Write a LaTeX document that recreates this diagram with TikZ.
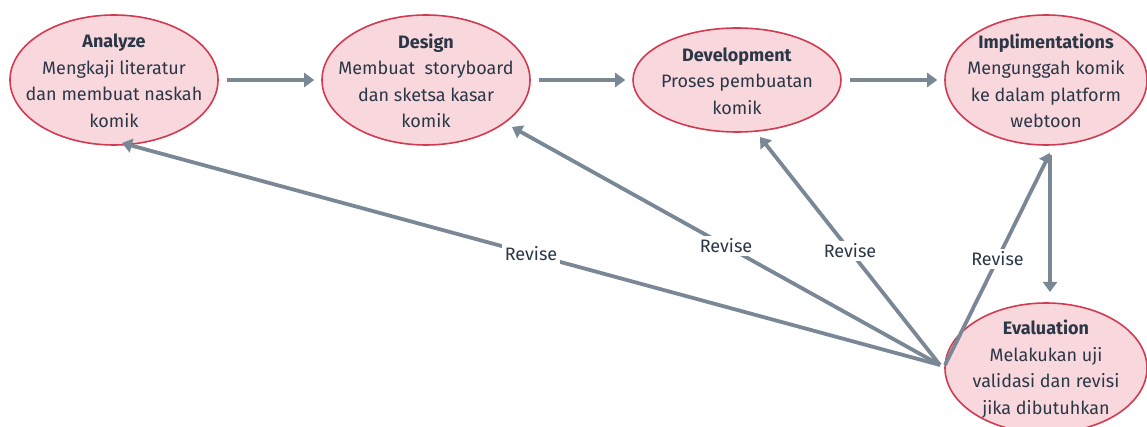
\documentclass[tikz,border=0pt]{standalone}
\usepackage{fontspec}
\setmainfont{Fira Sans}
\usetikzlibrary{arrows.meta,shapes.geometric}
\definecolor{phasefill}{HTML}{F8D8DD}
\definecolor{phaseedge}{HTML}{D13A50}
\definecolor{flow}{HTML}{7A8896}
\definecolor{ink}{HTML}{2B3646}
\tikzset{
  phase/.style={ellipse, draw=phaseedge, fill=phasefill, line width=1.6pt,
    inner sep=0pt},
  phasetext/.style={align=center, text=ink, inner sep=0pt,
    font=\fontsize{18}{26.5}\selectfont},
  flowarrow/.style={draw=flow, line width=3.8pt,
    -{Triangle[length=10pt,width=14pt]}},
  revise/.style={fill=white, text=ink, inner sep=3pt,
    font=\fontsize{18}{20}\selectfont}
}
\begin{document}
\begin{tikzpicture}[x=1pt,y=-1pt]
\useasboundingbox (0,0) rectangle (1147,427);

% phase ellipses
\node[phase, minimum width=208pt, minimum height=130pt] (an) at (114,80) {};
\node[phase, minimum width=208pt, minimum height=130pt] (de) at (426,80) {};
\node[phase, minimum width=208pt, minimum height=104pt] (dv) at (737,80) {};
\node[phase, minimum width=202pt, minimum height=130pt] (im) at (1046,80) {};
\node[phase, minimum width=202pt, minimum height=130pt] (ev) at (1046,368) {};

% phase descriptions
\node[phasetext] (anT) at ([yshift=-1pt]an.center)
  {\textbf{Analyze}\\Mengkaji literatur\\dan membuat naskah\\komik};
\node[phasetext] (deT) at ([yshift=-1pt]de.center)
  {\textbf{Design}\\Membuat\ \ storyboard\\dan sketsa kasar\\komik};
\node[phasetext] (dvT) at ([yshift=-1pt]dv.center)
  {\textbf{Development}\\Proses pembuatan\\komik};
\node[phasetext] (imT) at ([yshift=-1pt]im.center)
  {\textbf{Implimentations}\\Mengunggah komik\\ke dalam platform\\webtoon};
\node[phasetext] (evT) at ([yshift=-1pt]ev.center)
  {\textbf{Evaluation}\\Melakukan uji\\validasi dan revisi\\jika dibutuhkan};

% forward flow
\draw[flowarrow, shorten <=8pt, shorten >=7pt] (an.east) -- (de.west);
\draw[flowarrow, shorten <=8pt, shorten >=7pt] (de.east) -- (dv.west);
\draw[flowarrow, shorten <=8pt, shorten >=7pt] (dv.east) -- (im.west);
\coordinate (imOut) at (1050,155);
\coordinate (evIn) at (1050,292);
\draw[flowarrow] (imOut) -- (evIn);

% revision paths back from the evaluation
\coordinate (evOut) at (940,365);
\coordinate (evOut2) at (945,365);
\coordinate (anIn) at (122,143);
\coordinate (deIn) at (512,127);
\coordinate (dvIn) at (760,137);
\coordinate (imIn) at (1050,153);
\draw[flowarrow] (evOut) -- node[revise] (r1) {Revise} (anIn);
\draw[flowarrow] (evOut) -- node[revise] (r2) {Revise} (deIn);
\draw[flowarrow] (evOut) -- node[revise] (r3) {Revise} (dvIn);
\draw[flowarrow] (evOut2) -- node[revise] (r4) {Revise} (imIn);
\end{tikzpicture}
\end{document}
